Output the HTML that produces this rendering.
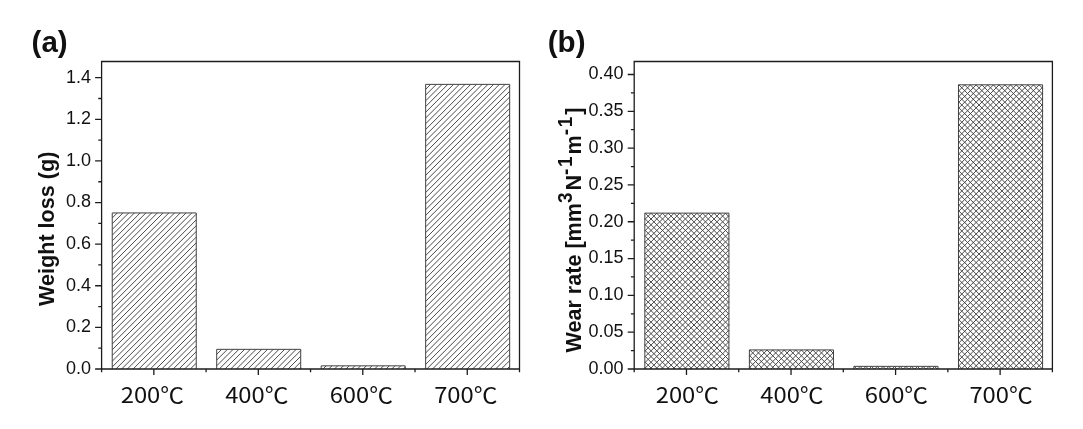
<!DOCTYPE html>
<html><head><meta charset="utf-8"><title>Figure</title>
<style>
html,body{margin:0;padding:0;background:#fff;}
svg{display:block;}
text{fill:#111;}
.tk{font-family:"Liberation Sans",sans-serif;font-size:18px;}
.xt{font-family:"Noto Sans CJK KR","Liberation Sans",sans-serif;font-size:22px;}
.yl{font-family:"Liberation Sans",sans-serif;font-weight:bold;font-size:21.6px;}
.sup{font-size:19px;letter-spacing:1.8px;}
.pl{font-family:"Liberation Sans",sans-serif;font-weight:bold;font-size:29.5px;}
</style></head><body>
<svg width="1083" height="429" viewBox="0 0 1083 429">
<rect width="1083" height="429" fill="#fff"/>
<path d="M112.24 217.95L117.24 212.95M112.24 223.68L122.97 212.95M112.24 229.41L128.70 212.95M112.24 235.14L134.43 212.95M112.24 240.87L140.16 212.95M112.24 246.60L145.89 212.95M112.24 252.33L151.62 212.95M112.24 258.06L157.35 212.95M112.24 263.79L163.08 212.95M112.24 269.52L168.81 212.95M112.24 275.25L174.54 212.95M112.24 280.98L180.27 212.95M112.24 286.71L186.00 212.95M112.24 292.44L191.73 212.95M112.24 298.17L196.24 214.17M112.24 303.90L196.24 219.90M112.24 309.63L196.24 225.63M112.24 315.36L196.24 231.36M112.24 321.09L196.24 237.09M112.24 326.82L196.24 242.82M112.24 332.55L196.24 248.55M112.24 338.28L196.24 254.28M112.24 344.01L196.24 260.01M112.24 349.74L196.24 265.74M112.24 355.47L196.24 271.47M112.24 361.20L196.24 277.20M112.24 366.93L196.24 282.93M115.89 369.00L196.24 288.66M121.62 369.00L196.24 294.39M127.35 369.00L196.24 300.12M133.08 369.00L196.24 305.85M138.81 369.00L196.24 311.58M144.54 369.00L196.24 317.31M150.27 369.00L196.24 323.04M156.00 369.00L196.24 328.77M161.73 369.00L196.24 334.50M167.46 369.00L196.24 340.23M173.19 369.00L196.24 345.96M178.92 369.00L196.24 351.69M184.65 369.00L196.24 357.42M190.38 369.00L196.24 363.15M196.11 369.00L196.24 368.88" stroke="#404040" stroke-width="0.95" fill="none"/>
<path d="M112.24 369.0V212.95H196.24V369.0" fill="none" stroke="#404040" stroke-width="1.0"/>
<path d="M216.71 354.34L221.71 349.34M216.71 360.07L227.44 349.34M216.71 365.80L233.17 349.34M219.24 369.00L238.90 349.34M224.97 369.00L244.63 349.34M230.70 369.00L250.36 349.34M236.43 369.00L256.09 349.34M242.16 369.00L261.82 349.34M247.89 369.00L267.55 349.34M253.62 369.00L273.28 349.34M259.35 369.00L279.01 349.34M265.08 369.00L284.74 349.34M270.81 369.00L290.47 349.34M276.54 369.00L296.20 349.34M282.27 369.00L300.71 350.56M288.00 369.00L300.71 356.29M293.73 369.00L300.71 362.02M299.46 369.00L300.71 367.75" stroke="#404040" stroke-width="0.95" fill="none"/>
<path d="M216.71 369.0V349.34H300.71V369.0" fill="none" stroke="#404040" stroke-width="1.0"/>
<path d="M323.02 369.00L326.19 365.84M328.75 369.00L331.92 365.84M334.48 369.00L337.65 365.84M340.21 369.00L343.38 365.84M345.94 369.00L349.11 365.84M351.67 369.00L354.84 365.84M357.40 369.00L360.57 365.84M363.13 369.00L366.30 365.84M368.86 369.00L372.03 365.84M374.59 369.00L377.76 365.84M380.32 369.00L383.49 365.84M386.05 369.00L389.22 365.84M391.78 369.00L394.95 365.84M397.51 369.00L400.68 365.84M403.24 369.00L405.19 367.06" stroke="#404040" stroke-width="0.95" fill="none"/>
<path d="M321.19 369.0V365.84H405.19V369.0" fill="none" stroke="#404040" stroke-width="1.0"/>
<path d="M425.66 89.36L430.66 84.36M425.66 95.09L436.39 84.36M425.66 100.82L442.12 84.36M425.66 106.55L447.85 84.36M425.66 112.28L453.58 84.36M425.66 118.01L459.31 84.36M425.66 123.74L465.04 84.36M425.66 129.47L470.77 84.36M425.66 135.20L476.50 84.36M425.66 140.93L482.23 84.36M425.66 146.66L487.96 84.36M425.66 152.39L493.69 84.36M425.66 158.12L499.42 84.36M425.66 163.85L505.15 84.36M425.66 169.58L509.66 85.58M425.66 175.31L509.66 91.31M425.66 181.04L509.66 97.04M425.66 186.77L509.66 102.77M425.66 192.50L509.66 108.50M425.66 198.23L509.66 114.23M425.66 203.96L509.66 119.96M425.66 209.69L509.66 125.69M425.66 215.42L509.66 131.42M425.66 221.15L509.66 137.15M425.66 226.88L509.66 142.88M425.66 232.61L509.66 148.61M425.66 238.34L509.66 154.34M425.66 244.07L509.66 160.07M425.66 249.80L509.66 165.80M425.66 255.53L509.66 171.53M425.66 261.26L509.66 177.26M425.66 266.99L509.66 182.99M425.66 272.72L509.66 188.72M425.66 278.45L509.66 194.45M425.66 284.18L509.66 200.18M425.66 289.91L509.66 205.91M425.66 295.64L509.66 211.64M425.66 301.37L509.66 217.37M425.66 307.10L509.66 223.10M425.66 312.83L509.66 228.83M425.66 318.56L509.66 234.56M425.66 324.29L509.66 240.29M425.66 330.02L509.66 246.02M425.66 335.75L509.66 251.75M425.66 341.48L509.66 257.48M425.66 347.21L509.66 263.21M425.66 352.94L509.66 268.94M425.66 358.67L509.66 274.67M425.66 364.40L509.66 280.40M426.79 369.00L509.66 286.13M432.52 369.00L509.66 291.86M438.25 369.00L509.66 297.59M443.98 369.00L509.66 303.32M449.71 369.00L509.66 309.05M455.44 369.00L509.66 314.78M461.17 369.00L509.66 320.51M466.90 369.00L509.66 326.24M472.63 369.00L509.66 331.97M478.36 369.00L509.66 337.70M484.09 369.00L509.66 343.43M489.82 369.00L509.66 349.16M495.55 369.00L509.66 354.89M501.28 369.00L509.66 360.62M507.01 369.00L509.66 366.35" stroke="#404040" stroke-width="0.95" fill="none"/>
<path d="M425.66 369.0V84.36H509.66V369.0" fill="none" stroke="#404040" stroke-width="1.0"/>
<path d="M101.6 61.5H519.5V369.0H101.6ZM101.6 369.00h-6.5M101.6 327.39h-6.5M101.6 285.77h-6.5M101.6 244.16h-6.5M101.6 202.54h-6.5M101.6 160.93h-6.5M101.6 119.31h-6.5M101.6 77.70h-6.5M101.6 348.19h-3.3M101.6 306.58h-3.3M101.6 264.96h-3.3M101.6 223.35h-3.3M101.6 181.74h-3.3M101.6 140.12h-3.3M101.6 98.51h-3.3M153.84 369.0v6M258.31 369.0v6M362.79 369.0v6M467.26 369.0v6M101.60 369.0v3.2M206.07 369.0v3.2M310.55 369.0v3.2M415.02 369.0v3.2M519.50 369.0v3.2" stroke="#1c1c1c" stroke-width="1.3" fill="none" stroke-linecap="butt"/>
<text x="91.00" y="373.80" text-anchor="end" class="tk">0.0</text>
<text x="91.00" y="332.19" text-anchor="end" class="tk">0.2</text>
<text x="91.00" y="290.57" text-anchor="end" class="tk">0.4</text>
<text x="91.00" y="248.96" text-anchor="end" class="tk">0.6</text>
<text x="91.00" y="207.34" text-anchor="end" class="tk">0.8</text>
<text x="91.00" y="165.73" text-anchor="end" class="tk">1.0</text>
<text x="91.00" y="124.11" text-anchor="end" class="tk">1.2</text>
<text x="91.00" y="82.50" text-anchor="end" class="tk">1.4</text>
<text transform="translate(152.34 403.4) scale(1.08 1)" text-anchor="middle" class="xt">200℃</text>
<text transform="translate(256.81 403.4) scale(1.08 1)" text-anchor="middle" class="xt">400℃</text>
<text transform="translate(361.29 403.4) scale(1.08 1)" text-anchor="middle" class="xt">600℃</text>
<text transform="translate(465.76 403.4) scale(1.08 1)" text-anchor="middle" class="xt">700℃</text>
<path d="M644.83 213.74L645.42 213.14M644.83 219.47L651.15 213.14M644.83 225.20L656.88 213.14M644.83 230.93L662.62 213.14M644.83 236.66L668.35 213.14M644.83 242.39L674.08 213.14M644.83 248.12L679.81 213.14M644.83 253.85L685.54 213.14M644.83 259.58L691.27 213.14M644.83 265.31L697.00 213.14M644.83 271.04L702.72 213.14M644.83 276.77L708.45 213.14M644.83 282.50L714.18 213.14M644.83 288.23L719.91 213.14M644.83 293.96L725.64 213.14M644.83 299.69L728.92 215.59M644.83 305.42L728.92 221.32M644.83 311.15L728.92 227.05M644.83 316.88L728.92 232.78M644.83 322.61L728.92 238.51M644.83 328.34L728.92 244.24M644.83 334.07L728.92 249.97M644.83 339.80L728.92 255.70M644.83 345.53L728.92 261.43M644.83 351.26L728.92 267.16M644.83 356.99L728.92 272.89M644.83 362.72L728.92 278.62M644.83 368.45L728.92 284.35M650.00 369.00L728.92 290.08M655.73 369.00L728.92 295.81M661.46 369.00L728.92 301.54M667.19 369.00L728.92 307.27M672.92 369.00L728.92 313.00M678.65 369.00L728.92 318.73M684.38 369.00L728.92 324.46M690.11 369.00L728.92 330.19M695.84 369.00L728.92 335.92M701.57 369.00L728.92 341.65M707.30 369.00L728.92 347.38M713.03 369.00L728.92 353.11M718.76 369.00L728.92 358.84M724.49 369.00L728.92 364.57M644.83 367.50L646.33 369.00M644.83 361.77L652.06 369.00M644.83 356.04L657.79 369.00M644.83 350.31L663.52 369.00M644.83 344.58L669.25 369.00M644.83 338.85L674.98 369.00M644.83 333.12L680.71 369.00M644.83 327.39L686.44 369.00M644.83 321.66L692.17 369.00M644.83 315.93L697.90 369.00M644.83 310.20L703.63 369.00M644.83 304.47L709.36 369.00M644.83 298.74L715.09 369.00M644.83 293.01L720.82 369.00M644.83 287.28L726.55 369.00M644.83 281.55L728.92 365.65M644.83 275.82L728.92 359.92M644.83 270.09L728.92 354.19M644.83 264.36L728.92 348.46M644.83 258.63L728.92 342.73M644.83 252.90L728.92 337.00M644.83 247.17L728.92 331.27M644.83 241.44L728.92 325.54M644.83 235.71L728.92 319.81M644.83 229.98L728.92 314.08M644.83 224.25L728.92 308.35M644.83 218.52L728.92 302.62M645.18 213.14L728.92 296.89M650.91 213.14L728.92 291.16M656.63 213.14L728.92 285.43M662.37 213.14L728.92 279.70M668.10 213.14L728.92 273.97M673.83 213.14L728.92 268.24M679.56 213.14L728.92 262.51M685.29 213.14L728.92 256.78M691.02 213.14L728.92 251.05M696.75 213.14L728.92 245.32M702.48 213.14L728.92 239.59M708.21 213.14L728.92 233.86M713.94 213.14L728.92 228.13M719.67 213.14L728.92 222.40M725.39 213.14L728.92 216.67" stroke="#404040" stroke-width="0.95" fill="none"/>
<path d="M644.83 369.0V213.14H728.92V369.0" fill="none" stroke="#404040" stroke-width="1.0"/>
<path d="M749.38 350.53L749.97 349.93M749.38 356.26L755.70 349.93M749.38 361.99L761.43 349.93M749.38 367.72L767.16 349.93M753.83 369.00L772.89 349.93M759.56 369.00L778.62 349.93M765.29 369.00L784.36 349.93M771.02 369.00L790.08 349.93M776.75 369.00L795.81 349.93M782.48 369.00L801.54 349.93M788.21 369.00L807.27 349.93M793.94 369.00L813.00 349.93M799.67 369.00L818.73 349.93M805.40 369.00L824.46 349.93M811.13 369.00L830.19 349.93M816.86 369.00L833.48 352.38M822.59 369.00L833.48 358.11M828.32 369.00L833.48 363.84M749.38 366.77L751.60 369.00M749.38 361.04L757.33 369.00M749.38 355.31L763.06 369.00M749.73 349.93L768.79 369.00M755.46 349.93L774.52 369.00M761.19 349.93L780.25 369.00M766.92 349.93L785.98 369.00M772.65 349.93L791.71 369.00M778.38 349.93L797.44 369.00M784.11 349.93L803.17 369.00M789.84 349.93L808.90 369.00M795.57 349.93L814.63 369.00M801.30 349.93L820.36 369.00M807.03 349.93L826.09 369.00M812.76 349.93L831.82 369.00M818.49 349.93L833.48 364.92M824.22 349.93L833.48 359.19M829.95 349.93L833.48 353.46" stroke="#404040" stroke-width="0.95" fill="none"/>
<path d="M749.38 369.0V349.93H833.48V369.0" fill="none" stroke="#404040" stroke-width="1.0"/>
<path d="M853.93 366.95L854.52 366.35M857.60 369.00L860.25 366.35M863.33 369.00L865.98 366.35M869.06 369.00L871.71 366.35M874.79 369.00L877.44 366.35M880.52 369.00L883.17 366.35M886.25 369.00L888.90 366.35M891.98 369.00L894.63 366.35M897.71 369.00L900.36 366.35M903.44 369.00L906.09 366.35M909.17 369.00L911.82 366.35M914.90 369.00L917.55 366.35M920.63 369.00L923.28 366.35M926.36 369.00L929.01 366.35M932.09 369.00L934.74 366.35M937.82 369.00L938.02 368.80M854.28 366.35L856.93 369.00M860.01 366.35L862.66 369.00M865.74 366.35L868.39 369.00M871.47 366.35L874.12 369.00M877.20 366.35L879.85 369.00M882.93 366.35L885.58 369.00M888.66 366.35L891.31 369.00M894.38 366.35L897.04 369.00M900.12 366.35L902.77 369.00M905.85 366.35L908.50 369.00M911.58 366.35L914.23 369.00M917.31 366.35L919.96 369.00M923.04 366.35L925.69 369.00M928.77 366.35L931.42 369.00M934.50 366.35L937.15 369.00" stroke="#404040" stroke-width="0.95" fill="none"/>
<path d="M853.93 369.0V366.35H938.02V369.0" fill="none" stroke="#404040" stroke-width="1.0"/>
<path d="M958.48 85.41L959.08 84.81M958.48 91.14L964.81 84.81M958.48 96.87L970.54 84.81M958.48 102.60L976.27 84.81M958.48 108.33L982.00 84.81M958.48 114.06L987.73 84.81M958.48 119.79L993.46 84.81M958.48 125.52L999.19 84.81M958.48 131.25L1004.92 84.81M958.48 136.98L1010.65 84.81M958.48 142.71L1016.38 84.81M958.48 148.44L1022.11 84.81M958.48 154.17L1027.84 84.81M958.48 159.90L1033.57 84.81M958.48 165.63L1039.30 84.81M958.48 171.36L1042.58 87.26M958.48 177.09L1042.58 92.99M958.48 182.82L1042.58 98.72M958.48 188.55L1042.58 104.45M958.48 194.28L1042.58 110.18M958.48 200.01L1042.58 115.91M958.48 205.74L1042.58 121.64M958.48 211.47L1042.58 127.37M958.48 217.20L1042.58 133.10M958.48 222.93L1042.58 138.83M958.48 228.66L1042.58 144.56M958.48 234.39L1042.58 150.29M958.48 240.12L1042.58 156.02M958.48 245.85L1042.58 161.75M958.48 251.58L1042.58 167.48M958.48 257.31L1042.58 173.21M958.48 263.04L1042.58 178.94M958.48 268.77L1042.58 184.67M958.48 274.50L1042.58 190.40M958.48 280.23L1042.58 196.13M958.48 285.96L1042.58 201.86M958.48 291.69L1042.58 207.59M958.48 297.42L1042.58 213.32M958.48 303.15L1042.58 219.05M958.48 308.88L1042.58 224.78M958.48 314.61L1042.58 230.51M958.48 320.34L1042.58 236.24M958.48 326.07L1042.58 241.97M958.48 331.80L1042.58 247.70M958.48 337.53L1042.58 253.43M958.48 343.26L1042.58 259.16M958.48 348.99L1042.58 264.89M958.48 354.72L1042.58 270.62M958.48 360.45L1042.58 276.35M958.48 366.18L1042.58 282.08M961.38 369.00L1042.58 287.81M967.11 369.00L1042.58 293.54M972.84 369.00L1042.58 299.27M978.57 369.00L1042.58 305.00M984.30 369.00L1042.58 310.73M990.03 369.00L1042.58 316.46M995.76 369.00L1042.58 322.19M1001.49 369.00L1042.58 327.92M1007.22 369.00L1042.58 333.65M1012.95 369.00L1042.58 339.38M1018.68 369.00L1042.58 345.11M1024.41 369.00L1042.58 350.84M1030.14 369.00L1042.58 356.57M1035.87 369.00L1042.58 362.30M1041.60 369.00L1042.58 368.03M958.48 365.23L962.25 369.00M958.48 359.50L967.98 369.00M958.48 353.77L973.71 369.00M958.48 348.04L979.44 369.00M958.48 342.31L985.17 369.00M958.48 336.58L990.90 369.00M958.48 330.85L996.63 369.00M958.48 325.12L1002.36 369.00M958.48 319.39L1008.09 369.00M958.48 313.66L1013.82 369.00M958.48 307.93L1019.55 369.00M958.48 302.20L1025.28 369.00M958.48 296.47L1031.01 369.00M958.48 290.74L1036.74 369.00M958.48 285.01L1042.47 369.00M958.48 279.28L1042.58 363.38M958.48 273.55L1042.58 357.65M958.48 267.82L1042.58 351.92M958.48 262.09L1042.58 346.19M958.48 256.36L1042.58 340.46M958.48 250.63L1042.58 334.73M958.48 244.90L1042.58 329.00M958.48 239.17L1042.58 323.27M958.48 233.44L1042.58 317.54M958.48 227.71L1042.58 311.81M958.48 221.98L1042.58 306.08M958.48 216.25L1042.58 300.35M958.48 210.52L1042.58 294.62M958.48 204.79L1042.58 288.89M958.48 199.06L1042.58 283.16M958.48 193.33L1042.58 277.43M958.48 187.60L1042.58 271.70M958.48 181.87L1042.58 265.97M958.48 176.14L1042.58 260.24M958.48 170.41L1042.58 254.51M958.48 164.68L1042.58 248.78M958.48 158.95L1042.58 243.05M958.48 153.22L1042.58 237.32M958.48 147.49L1042.58 231.59M958.48 141.76L1042.58 225.86M958.48 136.03L1042.58 220.13M958.48 130.30L1042.58 214.40M958.48 124.57L1042.58 208.67M958.48 118.84L1042.58 202.94M958.48 113.11L1042.58 197.21M958.48 107.38L1042.58 191.48M958.48 101.65L1042.58 185.75M958.48 95.92L1042.58 180.02M958.48 90.19L1042.58 174.29M958.83 84.81L1042.58 168.56M964.56 84.81L1042.58 162.83M970.29 84.81L1042.58 157.10M976.02 84.81L1042.58 151.37M981.75 84.81L1042.58 145.64M987.48 84.81L1042.58 139.91M993.21 84.81L1042.58 134.18M998.94 84.81L1042.58 128.45M1004.67 84.81L1042.58 122.72M1010.40 84.81L1042.58 116.99M1016.13 84.81L1042.58 111.26M1021.86 84.81L1042.58 105.53M1027.59 84.81L1042.58 99.80M1033.32 84.81L1042.58 94.07M1039.05 84.81L1042.58 88.34" stroke="#404040" stroke-width="0.95" fill="none"/>
<path d="M958.48 369.0V84.81H1042.58V369.0" fill="none" stroke="#404040" stroke-width="1.0"/>
<path d="M634.2 61.5H1052.4V369.0H634.2ZM634.2 369.00h-6.5M634.2 332.19h-6.5M634.2 295.38h-6.5M634.2 258.56h-6.5M634.2 221.75h-6.5M634.2 184.94h-6.5M634.2 148.12h-6.5M634.2 111.31h-6.5M634.2 74.50h-6.5M634.2 350.59h-3.3M634.2 313.78h-3.3M634.2 276.97h-3.3M634.2 240.16h-3.3M634.2 203.34h-3.3M634.2 166.53h-3.3M634.2 129.72h-3.3M634.2 92.91h-3.3M686.48 369.0v6M791.03 369.0v6M895.58 369.0v6M1000.13 369.0v6M634.20 369.0v3.2M738.75 369.0v3.2M843.30 369.0v3.2M947.85 369.0v3.2M1052.40 369.0v3.2" stroke="#1c1c1c" stroke-width="1.3" fill="none" stroke-linecap="butt"/>
<text x="623.60" y="373.80" text-anchor="end" class="tk">0.00</text>
<text x="623.60" y="336.99" text-anchor="end" class="tk">0.05</text>
<text x="623.60" y="300.18" text-anchor="end" class="tk">0.10</text>
<text x="623.60" y="263.36" text-anchor="end" class="tk">0.15</text>
<text x="623.60" y="226.55" text-anchor="end" class="tk">0.20</text>
<text x="623.60" y="189.74" text-anchor="end" class="tk">0.25</text>
<text x="623.60" y="152.93" text-anchor="end" class="tk">0.30</text>
<text x="623.60" y="116.11" text-anchor="end" class="tk">0.35</text>
<text x="623.60" y="79.30" text-anchor="end" class="tk">0.40</text>
<text transform="translate(687.38 403.4) scale(1.08 1)" text-anchor="middle" class="xt">200℃</text>
<text transform="translate(791.93 403.4) scale(1.08 1)" text-anchor="middle" class="xt">400℃</text>
<text transform="translate(896.48 403.4) scale(1.08 1)" text-anchor="middle" class="xt">600℃</text>
<text transform="translate(1001.03 403.4) scale(1.08 1)" text-anchor="middle" class="xt">700℃</text>
<text transform="translate(54.0 306.0) rotate(-90) scale(1 1.06)" class="yl">Weight loss (g)</text>
<text transform="translate(580.9 352.6) rotate(-90) scale(1 1.06)" class="yl">Wear rate [mm<tspan dy="-8.6" class="sup">3</tspan><tspan dy="8.6">N</tspan><tspan dy="-8.6" class="sup">-1</tspan><tspan dy="8.6">m</tspan><tspan dy="-8.6" class="sup">-1</tspan><tspan dy="8.6">]</tspan></text>
<text x="31.6" y="51.8" class="pl">(a)</text>
<text x="547.8" y="51.8" class="pl">(b)</text>
</svg>
</body></html>
